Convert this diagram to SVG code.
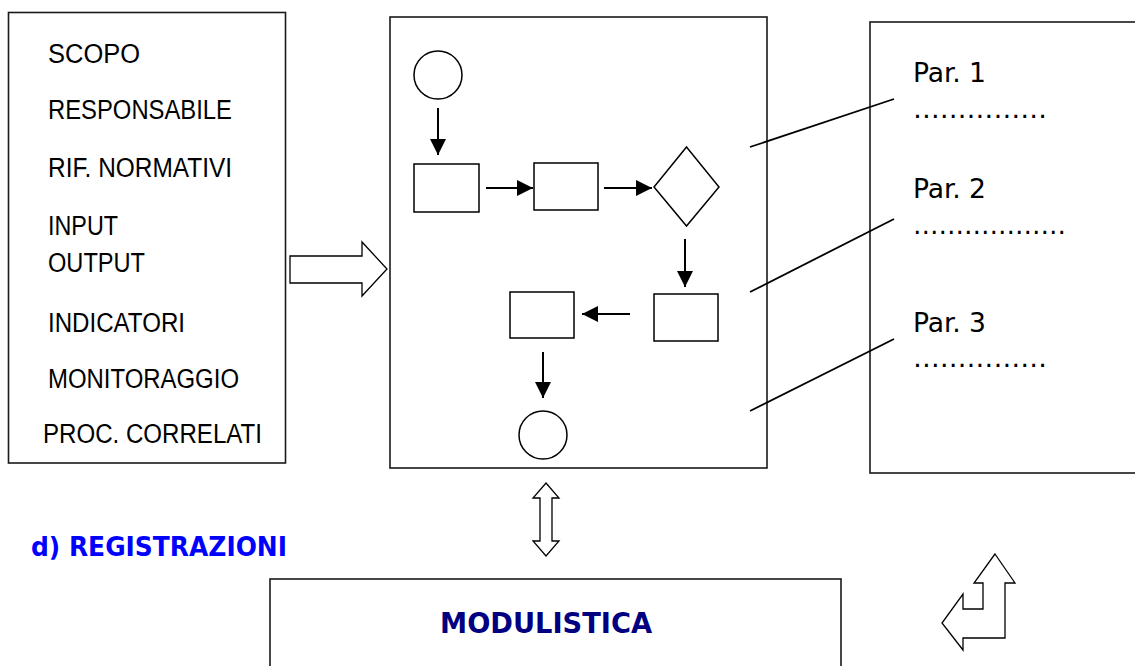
<svg xmlns="http://www.w3.org/2000/svg" width="1135" height="666" viewBox="0 0 1135 666">
<style>
.box{fill:#fff;stroke:#1a1a1a;stroke-width:1.6}
.shp{fill:#fff;stroke:#000;stroke-width:1.5}
.fl{fill:none;stroke:#000;stroke-width:2}
.ln{fill:none;stroke:#000;stroke-width:1.8}
.bigarrow{fill:#fff;stroke:#000;stroke-width:1.3;stroke-linejoin:miter}
.lt{font-family:"Liberation Sans",Arial,sans-serif;font-size:27px;fill:#000}
.pt{font-family:"DejaVu Sans Condensed","DejaVu Sans",sans-serif;font-size:27px;fill:#000}
.bt{font-family:"DejaVu Sans Condensed","DejaVu Sans",sans-serif;font-weight:bold;}
</style>
<defs>
<marker id="ah" markerUnits="userSpaceOnUse" markerWidth="17" markerHeight="16" refX="16" refY="8" orient="auto">
<path d="M0,0 L16,8 L0,16 Z" fill="#000"/>
</marker>
</defs>
<rect width="1135" height="666" fill="#fff"/>

<g id="left-box">
<rect class="box" x="8.5" y="12.5" width="277" height="450.5"/>
<text class="lt" x="48" y="63" textLength="92" lengthAdjust="spacingAndGlyphs">SCOPO</text>
<text class="lt" x="48" y="119" textLength="184" lengthAdjust="spacingAndGlyphs">RESPONSABILE</text>
<text class="lt" x="48" y="177" textLength="184" lengthAdjust="spacingAndGlyphs">RIF. NORMATIVI</text>
<text class="lt" x="48" y="235" textLength="70" lengthAdjust="spacingAndGlyphs">INPUT</text>
<text class="lt" x="48" y="272" textLength="97" lengthAdjust="spacingAndGlyphs">OUTPUT</text>
<text class="lt" x="48" y="332" textLength="137" lengthAdjust="spacingAndGlyphs">INDICATORI</text>
<text class="lt" x="48" y="388" textLength="191" lengthAdjust="spacingAndGlyphs">MONITORAGGIO</text>
<text class="lt" x="43" y="443" textLength="219" lengthAdjust="spacingAndGlyphs">PROC. CORRELATI</text>
</g>

<g id="arrow-right">
<polygon class="bigarrow" points="290,256 362,256 362,242 387,269 362,296 362,283 290,283"/>
</g>

<g id="process-box">
<rect class="box" x="390" y="17" width="377" height="451"/>
</g>

<g id="start"><circle class="shp" cx="438" cy="75" r="24"/></g>
<g id="step1"><rect class="shp" x="414" y="164" width="65" height="48"/></g>
<g id="step2"><rect class="shp" x="534" y="163" width="64" height="47"/></g>
<g id="decision"><polygon class="shp" points="686.5,147 719,187 686.5,226 654,187"/></g>
<g id="step3"><rect class="shp" x="654" y="294" width="64" height="47"/></g>
<g id="step4"><rect class="shp" x="510" y="292" width="64" height="46"/></g>
<g id="end"><circle class="shp" cx="543" cy="435" r="24"/></g>

<g id="doc-box">
<rect class="box" x="870" y="22" width="300" height="451"/>
<text class="pt" x="913" y="82" textLength="73" lengthAdjust="spacingAndGlyphs">Par. 1</text>
<text class="pt" x="913" y="118" textLength="134" lengthAdjust="spacingAndGlyphs">……………</text>
<text class="pt" x="913" y="198" textLength="73" lengthAdjust="spacingAndGlyphs">Par. 2</text>
<text class="pt" x="913" y="234" textLength="153" lengthAdjust="spacingAndGlyphs">………………</text>
<text class="pt" x="913" y="332" textLength="73" lengthAdjust="spacingAndGlyphs">Par. 3</text>
<text class="pt" x="913" y="367" textLength="134" lengthAdjust="spacingAndGlyphs">……………</text>
</g>

<g id="connectors">
<line class="fl" x1="438" y1="108" x2="438" y2="155" marker-end="url(#ah)"/>
<line class="fl" x1="486" y1="188" x2="533" y2="188" marker-end="url(#ah)"/>
<line class="fl" x1="604" y1="188" x2="652" y2="188" marker-end="url(#ah)"/>
<line class="fl" x1="685" y1="239" x2="685" y2="287" marker-end="url(#ah)"/>
<line class="fl" x1="630" y1="314" x2="582" y2="314" marker-end="url(#ah)"/>
<line class="fl" x1="543" y1="352" x2="543" y2="398" marker-end="url(#ah)"/>
<line class="ln" x1="750" y1="147" x2="894" y2="99"/>
<line class="ln" x1="750" y1="292" x2="894" y2="219"/>
<line class="ln" x1="750" y1="411" x2="894" y2="339"/>
</g>

<g id="double-arrow">
<polygon class="bigarrow" points="546,483 559,498 552,498 552,541 559,541 546,556 533,541 540,541 540,498 533,498"/>
</g>

<g id="registrazioni">
<text class="bt" x="31" y="556" font-size="26" fill="#0000ff" textLength="256" lengthAdjust="spacingAndGlyphs">d) REGISTRAZIONI</text>
</g>

<g id="modulistica">
<rect class="box" x="270" y="579" width="571" height="100"/>
<text class="bt" x="440" y="633" font-size="28" fill="#000080" textLength="212" lengthAdjust="spacingAndGlyphs">MODULISTICA</text>
</g>

<g id="l-arrow">
<polygon class="bigarrow" points="995,554 1015,583 1005,583 1005,638 963,638 963,650 942,623 963,594 963,609 983,609 983,583 974,583"/>
</g>
</svg>
